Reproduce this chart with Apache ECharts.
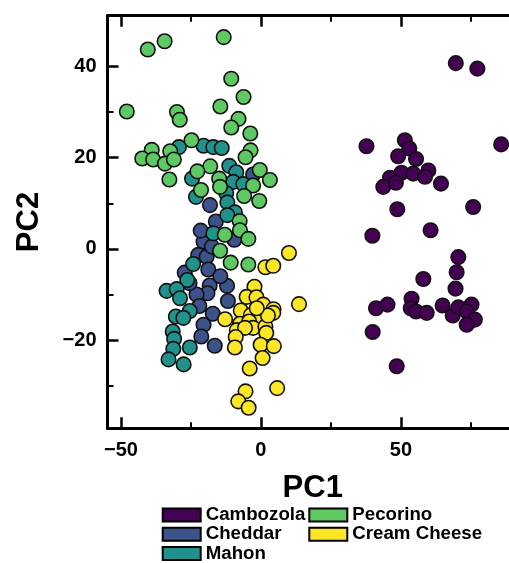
<!DOCTYPE html>
<html>
<head>
<meta charset="utf-8">
<script src="https://cdn.jsdelivr.net/npm/echarts@6/dist/echarts.min.js"></script>
<style>
html,body{margin:0;padding:0;background:#fff;}
#chart{width:509px;height:563px;}
</style>
</head>
<body>
<div id="chart"></div>
<script>
const categories = ['Cambozola', 'Cheddar', 'Mahon', 'Pecorino', 'Cream Cheese'];
const colors = ['#440154', '#3b528b', '#21918c', '#5ec962', '#fde725'];

const xMajorTicks = [-50, 0, 50];
const xMinorTicks = [-25, 25, 75];
const yMajorTicks = [-20, 0, 20, 40];
const yMinorTicks = [-30, -10, 10, 30];

const cambozola = [
  [69.6, 40.7], [77.3, 39.5], [37.7, 22.5], [85.8, 22.9], [51.4, 23.8], [53.0, 22.0],
  [49.0, 20.3], [55.4, 19.7], [50.2, 16.7], [54.4, 16.5], [59.8, 17.2], [58.6, 15.8],
  [46.1, 15.6], [43.7, 13.6], [48.2, 14.5], [64.3, 14.3], [48.7, 8.7], [75.8, 9.2],
  [39.8, 2.9], [60.6, 4.1], [70.5, -1.8], [69.9, -5.1], [58.0, -6.6], [69.5, -8.7],
  [41.1, -13.0], [45.2, -12.2], [53.8, -10.9], [53.5, -13.0], [55.4, -13.7], [59.2, -14.0],
  [64.9, -12.4], [68.5, -14.6], [70.5, -12.8], [75.2, -12.2], [73.5, -13.7], [76.4, -15.5],
  [73.5, -16.6], [39.9, -18.2], [48.5, -25.7]
];
const cheddar = [
  [-2.8, 16.3], [-18.2, 9.6], [-16.1, 6.0], [-20.5, 1.6], [-9.5, 2.0], [-22.4, -1.3],
  [-19.4, -1.7], [-18.8, -4.5], [-27.2, -5.2], [-18.3, -8.0], [-12.1, -8.1], [-19.1, -9.7],
  [-23.0, -10.0], [-11.8, -11.4], [-17.2, -14.2], [-20.5, -16.6], [-21.3, -19.2], [-16.5, -21.2],
  [-21.5, 4.0], [-17.5, 0.5], [-25.5, -7.5], [-22.0, -12.5], [-14.5, -6.0]
];
const mahon = [
  [-29.3, 22.3], [-20.5, 22.6], [-17.0, 22.3], [-14.0, 22.1], [-11.3, 18.2], [-8.8, 16.8],
  [-24.6, 15.4], [-9.9, 14.7], [-6.3, 14.2], [-23.2, 11.4], [-12.4, 12.2], [-12.0, 10.2],
  [-9.3, 8.0], [-12.0, 7.4], [-17.0, 3.4], [-24.2, -3.3], [-26.3, -6.8], [-33.7, -9.2],
  [-30.1, -8.8], [-28.9, -10.8], [-25.4, -13.6], [-30.4, -14.8], [-27.7, -15.1], [-31.5, -18.1],
  [-31.0, -19.7], [-31.3, -21.9], [-25.4, -21.6], [-33.0, -24.2], [-27.6, -25.3]
];
const pecorino = [
  [-40.4, 43.7], [-34.4, 45.5], [-13.3, 46.4], [-10.6, 37.3], [-6.2, 33.3], [-14.5, 31.2],
  [-47.9, 30.1], [-30.0, 30.0], [-29.0, 28.3], [-8.0, 28.5], [-10.6, 26.6], [-3.8, 25.3],
  [-24.8, 23.8], [-39.0, 21.7], [-32.4, 21.4], [-42.4, 19.8], [-38.5, 19.6], [-34.3, 18.7],
  [-31.1, 19.6], [-32.7, 15.2], [-3.7, 21.6], [-5.5, 20.1], [-18.1, 18.1], [-22.7, 17.0],
  [-14.9, 15.4], [-14.6, 13.6], [-0.4, 17.3], [3.2, 15.1], [-2.8, 13.9], [-21.4, 12.9],
  [-6.0, 11.6], [-0.6, 10.5], [-7.6, 6.1], [-7.5, 4.1], [-12.9, 3.1], [-4.5, 2.2],
  [-14.6, -0.4], [-10.8, -3.0], [-4.5, -3.4]
];
const creamCheese = [
  [10.0, -0.9], [1.6, -4.0], [4.4, -3.7], [-2.3, -8.3], [-5.1, -10.5], [-1.6, -10.6],
  [0.8, -12.2], [4.5, -13.2], [13.6, -12.1], [-7.2, -13.5], [-3.6, -14.5], [-0.4, -15.1],
  [4.4, -14.0], [-12.8, -15.4], [-7.5, -16.4], [-4.2, -15.9], [-2.8, -17.3], [1.6, -17.0],
  [-8.6, -17.8], [-5.7, -17.3], [1.9, -18.4], [-9.0, -19.3], [-9.3, -21.6], [-0.1, -21.0],
  [4.6, -21.3], [0.6, -23.9], [-4.0, -26.2], [5.8, -30.5], [-5.5, -31.2], [-8.1, -33.4],
  [-4.4, -34.8], [2.5, -14.6], [-1.5, -13.0]
];
const seriesData = [cambozola, cheddar, mahon, pecorino, creamCheese];

const X_MIN = -54.8, X_MAX = 88.6;
const Y_MIN = -39.3, Y_MAX = 51.1;

const FONT = '"Liberation Sans", Arial, sans-serif';
const fmt = v => String(v).replace('-', '\u2212');

function xAxisDef(pos, ticks, len, width, withLine, withLabels, extra) {
  return Object.assign({
    type: 'value', position: pos, min: X_MIN, max: X_MAX,
    splitLine: { show: false },
    axisLine: { show: withLine, onZero: false, lineStyle: { color: '#000', width: 3 } },
    axisTick: { show: true, inside: true, length: len, customValues: ticks, lineStyle: { color: '#000', width: width } },
    axisLabel: withLabels ? { show: true, customValues: ticks, formatter: fmt, margin: 12, color: '#000', fontSize: 20, fontWeight: 'bold', fontFamily: FONT } : { show: false }
  }, extra || {});
}
function yAxisDef(pos, ticks, len, width, withLine, withLabels, extra) {
  return Object.assign({
    type: 'value', position: pos, min: Y_MIN, max: Y_MAX,
    splitLine: { show: false },
    axisLine: { show: withLine, onZero: false, lineStyle: { color: '#000', width: 3 } },
    axisTick: { show: true, inside: true, length: len, customValues: ticks, lineStyle: { color: '#000', width: width } },
    axisLabel: withLabels ? { show: true, customValues: ticks, formatter: fmt, margin: 11, color: '#000', fontSize: 20, fontWeight: 'bold', fontFamily: FONT } : { show: false }
  }, extra || {});
}

const legendCommon = {
  orient: 'vertical', top: 505.3, padding: 0, height: 80, width: 200,
  itemWidth: 38, itemHeight: 13, itemGap: 0, icon: 'rect',
  itemStyle: { borderColor: '#000', borderWidth: 2 },
  textStyle: { color: '#000', fontSize: 18.7, lineHeight: 19.3, fontWeight: 'bold', fontFamily: FONT }
};

const chart = echarts.init(document.getElementById('chart'), null, { renderer: 'canvas' });
chart.setOption({
  backgroundColor: '#fff',
  animation: false,
  grid: { left: 107.5, right: 0, top: 15.7, bottom: 134.7, containLabel: false },
  xAxis: [
    xAxisDef('bottom', xMajorTicks, 11, 2.5, true, true, {
      name: 'PC1', nameLocation: 'middle', nameGap: 45,
      nameTextStyle: { color: '#000', fontSize: 31, fontWeight: 'bold', fontFamily: FONT, padding: [0, 0, 0, 9] }
    }),
    xAxisDef('bottom', xMinorTicks, 6, 2, false, false),
    xAxisDef('top', xMajorTicks, 11, 2.5, true, false),
    xAxisDef('top', xMinorTicks, 6, 2, false, false)
  ],
  yAxis: [
    yAxisDef('left', yMajorTicks, 11, 2.5, true, true, {
      name: 'PC2', nameLocation: 'middle', nameGap: 63, nameRotate: 90,
      nameTextStyle: { color: '#000', fontSize: 31, fontWeight: 'bold', fontFamily: FONT }
    }),
    yAxisDef('left', yMinorTicks, 6, 2, false, false)
  ],
  legend: [
    Object.assign({ data: categories.slice(0, 3), left: 161.7 }, legendCommon),
    Object.assign({ data: categories.slice(3), left: 308.3 }, legendCommon)
  ],
  series: categories.map((name, i) => ({
    name: name, type: 'scatter', xAxisIndex: 0, yAxisIndex: 0,
    data: seriesData[i], symbol: 'circle', symbolSize: 14.5,
    itemStyle: { color: colors[i], borderColor: '#111', borderWidth: 1.6, opacity: 1 },
    emphasis: { disabled: true }
  }))
});
</script>
</body>
</html>
